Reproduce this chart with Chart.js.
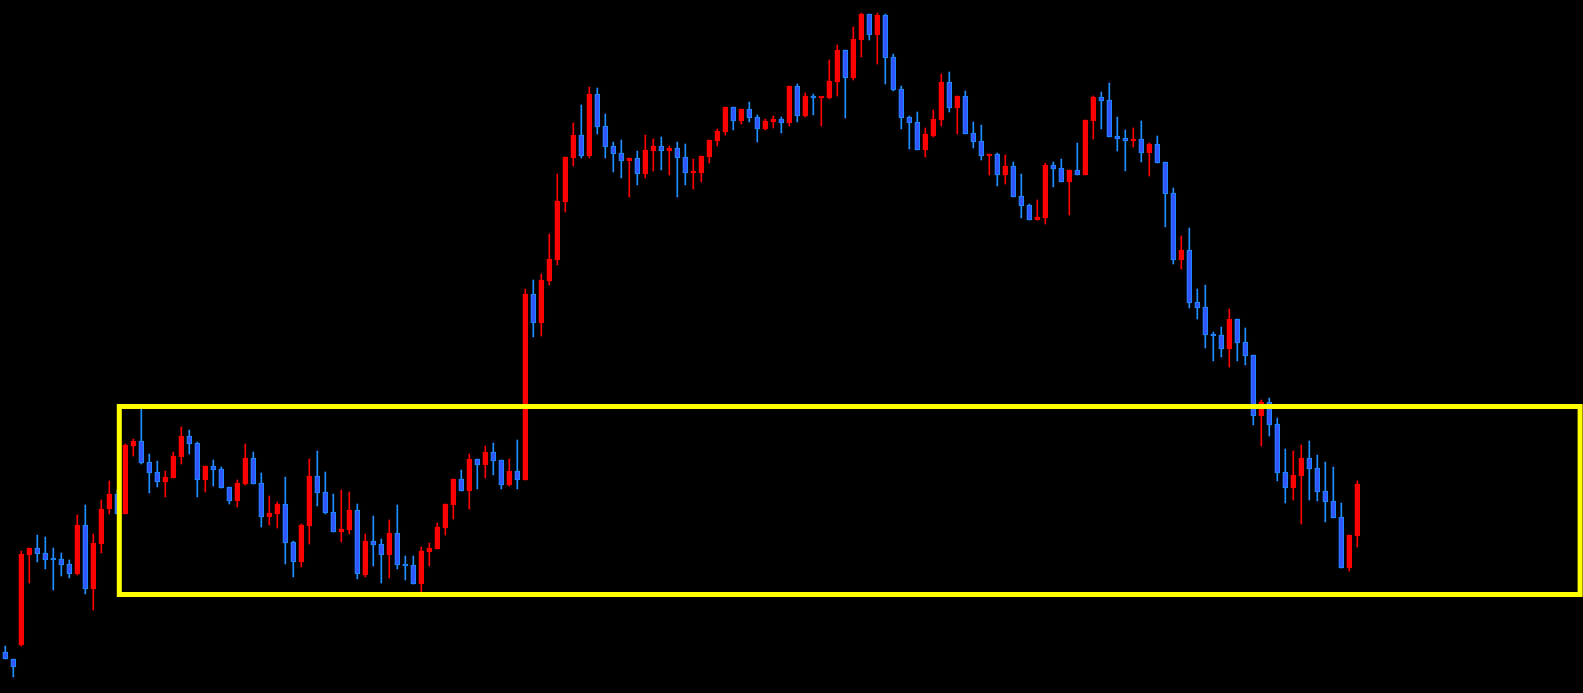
<!DOCTYPE html>
<html>
<head>
<meta charset="utf-8">
<script src="https://cdn.jsdelivr.net/npm/chart.js@4.4.1/dist/chart.umd.min.js"></script>
<style>
    html, body { margin: 0; padding: 0; background: #000; overflow: hidden; }
    #wrap { width: 1583px; height: 693px; }
</style>
</head>
<body>
<div id="wrap"><canvas id="priceChart"></canvas></div>
<script>
// OHLC per bar (price levels)
const open = [41, 34, 48, 138, 145, 140, 134, 134, 129, 119,
    168, 104, 149, 184, 199, 179, 247, 252, 231, 221,
    211, 215, 236, 257, 250, 213, 227, 224, 206, 192,
    209, 235, 210, 176, 179, 189, 151, 131, 167, 217,
    201, 181, 161, 163, 183, 118, 152, 149, 138, 160,
    129, 128, 109, 141, 144, 165, 188, 214, 202, 234,
    228, 241, 233, 208, 222, 213, 399, 370, 412, 433,
    491, 535, 558, 537, 599, 567, 547, 540, 532, 535,
    519, 542, 547, 542, 545, 536, 520, 520, 536, 552,
    561, 586, 572, 584, 576, 564, 571, 574, 570, 607,
    577, 597, 595, 595, 611, 643, 615, 653, 679, 658,
    678, 636, 604, 576, 571, 543, 557, 573, 611, 585,
    597, 560, 552, 537, 539, 518, 527, 497, 488, 473,
    475, 528, 525, 511, 523, 518, 572, 596, 593, 557,
    555, 552, 554, 540, 549, 531, 500, 433, 443, 391,
    386, 359, 358, 344, 374, 351, 338, 277, 291, 269,
    221, 205, 217, 235, 225, 202, 192, 176, 125, 157];

const high = [47, 34, 142, 145, 158, 156, 145, 140, 133, 178,
    188, 159, 193, 212, 203, 249, 254, 285, 239, 232,
    222, 241, 266, 263, 251, 227, 233, 226, 206, 213,
    249, 241, 220, 197, 191, 216, 152, 169, 234, 242,
    221, 199, 203, 201, 189, 159, 177, 154, 173, 188,
    137, 137, 146, 150, 170, 189, 214, 223, 239, 234,
    247, 250, 233, 234, 253, 404, 413, 419, 459, 519,
    536, 570, 588, 606, 605, 579, 551, 553, 535, 542,
    558, 554, 556, 547, 551, 549, 534, 537, 553, 564,
    586, 586, 584, 591, 578, 574, 577, 576, 607, 609,
    600, 599, 596, 633, 648, 643, 666, 680, 679, 680,
    679, 639, 607, 577, 581, 565, 583, 619, 621, 597,
    602, 571, 568, 539, 540, 538, 531, 519, 489, 493,
    530, 531, 534, 523, 550, 573, 597, 601, 610, 576,
    563, 565, 572, 550, 557, 531, 505, 457, 465, 404,
    408, 361, 366, 384, 374, 365, 338, 293, 295, 275,
    244, 242, 248, 252, 238, 231, 226, 190, 158, 212];

const low = [34, 16, 47, 110, 131, 124, 103, 117, 115, 118,
    99, 83, 140, 179, 179, 179, 237, 229, 200, 206,
    196, 215, 229, 239, 196, 201, 207, 205, 189, 186,
    208, 209, 166, 168, 165, 129, 116, 126, 149, 187,
    179, 161, 151, 159, 114, 116, 127, 110, 115, 124,
    113, 109, 101, 127, 144, 158, 174, 202, 184, 204,
    215, 218, 204, 207, 204, 213, 356, 357, 408, 428,
    481, 527, 535, 535, 559, 535, 521, 515, 496, 508,
    515, 522, 523, 518, 496, 508, 504, 511, 530, 547,
    558, 563, 569, 571, 551, 563, 565, 560, 567, 571,
    576, 578, 567, 594, 597, 575, 613, 636, 653, 629,
    609, 602, 564, 544, 543, 536, 556, 567, 581, 559,
    559, 545, 533, 518, 507, 509, 496, 475, 473, 473,
    469, 506, 511, 478, 518, 518, 554, 564, 556, 542,
    522, 546, 531, 517, 530, 466, 429, 424, 385, 374,
    345, 332, 336, 326, 332, 328, 268, 247, 257, 212,
    190, 193, 169, 193, 192, 171, 175, 125, 122, 146];

const close = [34, 26, 139, 145, 139, 133, 133, 128, 119, 168,
    104, 150, 184, 199, 179, 248, 252, 230, 220, 211,
    216, 237, 257, 249, 213, 227, 223, 205, 192, 210,
    235, 209, 176, 180, 189, 150, 131, 168, 217, 200,
    180, 161, 164, 183, 119, 152, 148, 138, 160, 128,
    127, 109, 142, 145, 166, 189, 214, 202, 234, 228,
    241, 232, 208, 222, 213, 399, 370, 413, 434, 492,
    536, 558, 537, 599, 566, 546, 539, 532, 535, 519,
    543, 547, 542, 545, 535, 520, 521, 537, 553, 562,
    586, 572, 584, 575, 564, 572, 574, 570, 607, 577,
    597, 595, 596, 612, 643, 615, 654, 679, 658, 678,
    635, 603, 575, 570, 543, 559, 574, 611, 585, 597,
    559, 551, 537, 539, 518, 527, 496, 487, 473, 476,
    528, 524, 511, 523, 518, 573, 596, 592, 556, 554,
    552, 554, 540, 549, 530, 499, 433, 443, 390, 385,
    358, 357, 344, 374, 350, 337, 277, 291, 268, 220,
    205, 218, 235, 224, 201, 191, 175, 125, 158, 209];

const bars = open.map((_, i) => i);

// highlighted range (bar index span and price band)
const boxFrom = 14.25;
const boxTo = 196.85;
const boxHigh = 286.5;
const boxLow = 98.5;

const UP = '#ff0000';
const DOWN_FILL = '#3355ff';
const DOWN_LINE = '#1e90ff';

const isUp = bars.map(i => close[i] >= open[i]);

const rangeBox = {
    id: 'rangeBox',
    afterDatasetsDraw(chart) {
        const { ctx, scales: { x, y } } = chart;
        const left = x.getPixelForValue(boxFrom);
        const right = x.getPixelForValue(boxTo);
        const top = y.getPixelForValue(boxHigh);
        const bottom = y.getPixelForValue(boxLow);
        ctx.save();
        ctx.strokeStyle = '#ffff00';
        ctx.lineWidth = 5;
        ctx.strokeRect(left, top, right - left, bottom - top);
        ctx.restore();
    }
};

new Chart(document.getElementById('priceChart'), {
    type: 'bar',
    data: {
        datasets: [{
            label: 'body',
            data: bars.map(i => ({ x: i, y: [open[i], close[i]] })),
            backgroundColor: bars.map(i => isUp[i] ? UP : DOWN_FILL),
            borderColor: bars.map(i => isUp[i] ? UP : DOWN_LINE),
            borderWidth: 1,
            borderSkipped: false,
            barThickness: 5,
            minBarLength: 2,
            grouped: false,
            order: 0
        }, {
            label: 'wick',
            data: bars.map(i => ({ x: i, y: [low[i], high[i]] })),
            backgroundColor: bars.map(i => isUp[i] ? UP : DOWN_LINE),
            borderWidth: 0,
            barThickness: 1,
            grouped: false,
            order: 1
        }]
    },
    options: {
        responsive: true,
        maintainAspectRatio: false,
        animation: false,
        layout: { padding: 0 },
        plugins: {
            legend: { display: false },
            tooltip: { enabled: false }
        },
        scales: {
            x: {
                type: 'linear',
                min: -0.6625,
                max: 197.2125,
                offset: false,
                display: false
            },
            y: {
                min: 0,
                max: 693,
                display: false
            }
        }
    },
    plugins: [rangeBox]
});
</script>
</body>
</html>
